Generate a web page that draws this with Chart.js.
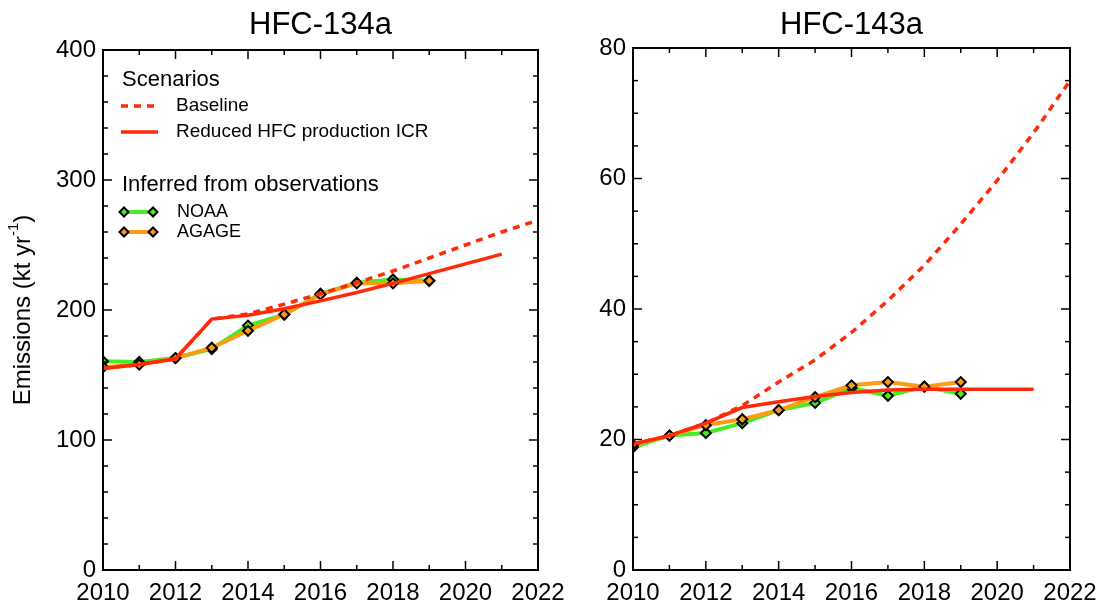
<!DOCTYPE html>
<html><head><meta charset="utf-8">
<script src="https://cdn.jsdelivr.net/npm/chart.js@4/dist/chart.umd.min.js"></script>
<style>
body{margin:0;background:#fff;}
#wrap{position:relative;width:1101px;height:604px;overflow:hidden;}
#c1{position:absolute;left:0;top:0;}
#c2{position:absolute;left:570px;top:0;}
</style>
</head><body>
<div id="wrap"><canvas id="c1" width="570" height="604"></canvas><canvas id="c2" width="531" height="604"></canvas></div>
<script>
const FONT = '"Liberation Sans", Arial, Helvetica, sans-serif';

// ---- data ----
const scenarioYears = [2010,2011,2012,2013,2014,2015,2016,2017,2018,2019,2020,2021,2022];
const reducedYears  = [2010,2011,2012,2013,2014,2015,2016,2017,2018,2019,2020,2021];
const obsYears      = [2010,2011,2012,2013,2014,2015,2016,2017,2018,2019];

const hfc134aBaseline = [155,158,162.5,193,197,204.5,212.5,221,230,240,250,260,269];
const hfc134aReduced  = [155,158,162.5,193,196,201,207,213.5,220.5,228,235.5,243];
const hfc134aNOAA     = [160.5,160,163,170,188,196.5,212.5,221,223.5,222.5];
const hfc134aAGAGE    = [156,158,163,171,184,196.5,212,220.5,220.5,222.5];

const hfc143aBaseline = [19.3,20.6,22.5,25.2,28.8,32.2,36.4,41.3,46.7,53,59.7,67,75];
const hfc143aReduced  = [19.3,20.6,22.5,24.9,25.8,26.6,27.2,27.6,27.7,27.7,27.7,27.7];
const hfc143aNOAA     = [18.8,20.6,21.0,22.5,24.5,25.6,27.9,26.7,28.1,27.0];
const hfc143aAGAGE    = [19.2,20.6,22.2,23.1,24.5,26.5,28.3,28.8,28.1,28.8];

const xTicks = [2010,2012,2014,2016,2018,2020,2022];
const yTicks134 = [0,100,200,300,400];
const yTicks143 = [0,20,40,60,80];

const RED = '#ff2a0a', GREEN = '#44ee22', ORANGE = '#ff9a14';

function pts(xs, ys){ return ys.map((v,i)=>({x:xs[i], y:v})); }

function datasets(baseline, reduced, noaa, agage){
  return [
    {label:'Reduced HFC production ICR', data:pts(reducedYears,reduced), borderColor:RED, borderWidth:3.5, pointRadius:0, fill:false},
    {label:'Baseline', data:pts(scenarioYears,baseline), borderColor:RED, borderWidth:3.5, borderDash:[7,6], pointRadius:0, fill:false},
    {label:'AGAGE', data:pts(obsYears,agage), borderColor:ORANGE, borderWidth:4, pointStyle:'rectRot', pointRadius:5, pointBackgroundColor:ORANGE, pointBorderColor:'#000', pointBorderWidth:2, fill:false},
    {label:'NOAA', data:pts(obsYears,noaa), borderColor:GREEN, borderWidth:4, pointStyle:'rectRot', pointRadius:5, pointBackgroundColor:GREEN, pointBorderColor:'#000', pointBorderWidth:2, fill:false}
  ];
}

function ln(ctx,x1,y1,x2,y2){ctx.beginPath();ctx.moveTo(x1,y1);ctx.lineTo(x2,y2);ctx.stroke();}

const framePlugin = {
  id:'frame',
  afterDraw(chart, args, o){
    const ctx = chart.ctx, a = chart.chartArea, x = chart.scales.x, y = chart.scales.y;
    ctx.save();
    ctx.strokeStyle = '#000'; ctx.lineWidth = 1.5;
    for (let v = o.xmin; v <= o.xmax; v += 1){
      const px = x.getPixelForValue(v), L = (v % 2 === 0) ? 9 : 5;
      ln(ctx,px,a.bottom,px,a.bottom-L); ln(ctx,px,a.top,px,a.top+L);
    }
    for (let k = 0; k <= Math.round(o.ymax/o.yminor); k++){
      const v = k*o.yminor, py = y.getPixelForValue(v);
      const L = (k % o.nminor === 0) ? 9 : 5;
      ln(ctx,a.left,py,a.left+L,py); ln(ctx,a.right,py,a.right-L,py);
    }
    ctx.lineWidth = 2;
    ctx.strokeRect(a.left, a.top, a.right-a.left, a.bottom-a.top);
    ctx.fillStyle = '#000';
    ctx.font = '31px ' + FONT; ctx.textAlign = 'center'; ctx.textBaseline = 'middle';
    ctx.fillText(o.title, (a.left+a.right)/2, 25);
    if (o.ytitle){
      ctx.save();
      ctx.translate(23, (a.top+a.bottom)/2);
      ctx.rotate(-Math.PI/2);
      ctx.font = '24px ' + FONT;
      const p1 = 'Emissions (kt yr', p3 = ')';
      const w1 = ctx.measureText(p1).width, w3 = ctx.measureText(p3).width;
      ctx.font = '15px ' + FONT;
      const p2 = '-1', w2 = ctx.measureText(p2).width;
      let sx = -(w1+w2+w3)/2;
      ctx.textAlign = 'left';
      ctx.font = '24px ' + FONT; ctx.fillText(p1, sx, 0);
      ctx.font = '15px ' + FONT; ctx.fillText(p2, sx+w1, -9);
      ctx.font = '24px ' + FONT; ctx.fillText(p3, sx+w1+w2, 0);
      ctx.restore();
    }
    if (o.legend){
      ctx.textAlign = 'left'; ctx.textBaseline = 'middle';
      ctx.font = '22px ' + FONT;
      ctx.fillText('Scenarios', 122, 80);
      ctx.fillText('Inferred from observations', 122, 185);
      ctx.font = '19px ' + FONT;
      ctx.fillText('Baseline', 176, 106);
      ctx.fillText('Reduced HFC production ICR', 176, 132);
      ctx.font = '18px ' + FONT;
      ctx.fillText('NOAA', 177, 212);
      ctx.fillText('AGAGE', 177, 232);
      ctx.strokeStyle = RED; ctx.lineWidth = 3.5;
      ctx.setLineDash([7,6]); ln(ctx,121,106,158,106);
      ctx.setLineDash([]); ln(ctx,121,132,158,132);
      [[GREEN,212],[ORANGE,232]].forEach(([c,yy])=>{
        ctx.strokeStyle = c; ctx.lineWidth = 4; ln(ctx,124,yy,153,yy);
        [124,153].forEach(xx=>{
          ctx.beginPath(); ctx.moveTo(xx,yy-4.5); ctx.lineTo(xx+4.5,yy); ctx.lineTo(xx,yy+4.5); ctx.lineTo(xx-4.5,yy); ctx.closePath();
          ctx.fillStyle = c; ctx.fill(); ctx.strokeStyle = '#000'; ctx.lineWidth = 2; ctx.stroke();
        });
      });
    }
    ctx.restore();
  }
};

function makeChart(id, ds, ymax, ystep, yTicks, yAxisW, padRight, top, frameOpts){
  return new Chart(document.getElementById(id), {
    type:'line',
    data:{datasets:ds},
    plugins:[framePlugin],
    options:{
      responsive:false, animation:false, devicePixelRatio:1,
      layout:{padding:{top:top, right:padRight, left:0, bottom:0}},
      plugins:{legend:{display:false}, tooltip:{enabled:false}, title:{display:false}, frame:frameOpts},
      elements:{line:{tension:0}},
      scales:{
        x:{type:'linear', min:2010, max:2022,
           afterFit:s=>{s.height = 34; s.paddingLeft = 0; s.paddingRight = 0;},
           afterBuildTicks:s=>{s.ticks = xTicks.map(v=>({value:v}));},
           grid:{display:false, drawTicks:false}, border:{display:false},
           ticks:{font:{size:24, family:FONT}, color:'#000', padding:9, maxRotation:0, autoSkip:false, callback:v=>String(v)}},
        y:{type:'linear', min:0, max:ymax,
           afterFit:s=>{s.width = yAxisW; s.paddingTop = 0; s.paddingBottom = 0;},
           afterBuildTicks:s=>{s.ticks = yTicks.map(v=>({value:v}));},
           grid:{display:false, drawTicks:false}, border:{display:false},
           ticks:{font:{size:24, family:FONT}, color:'#000', padding:7, callback:v=>String(v)}}
      }
    }
  });
}

makeChart('c1', datasets(hfc134aBaseline, hfc134aReduced, hfc134aNOAA, hfc134aAGAGE), 400, 100, yTicks134, 103, 32, 50,
  {xmin:2010, xmax:2022, ymax:400, yminor:20, nminor:5, title:'HFC-134a', ytitle:true, legend:true});
makeChart('c2', datasets(hfc143aBaseline, hfc143aReduced, hfc143aNOAA, hfc143aAGAGE), 80, 20, yTicks143, 63, 31, 48,
  {xmin:2010, xmax:2022, ymax:80, yminor:5, nminor:4, title:'HFC-143a', ytitle:false, legend:false});
</script>
</body></html>
